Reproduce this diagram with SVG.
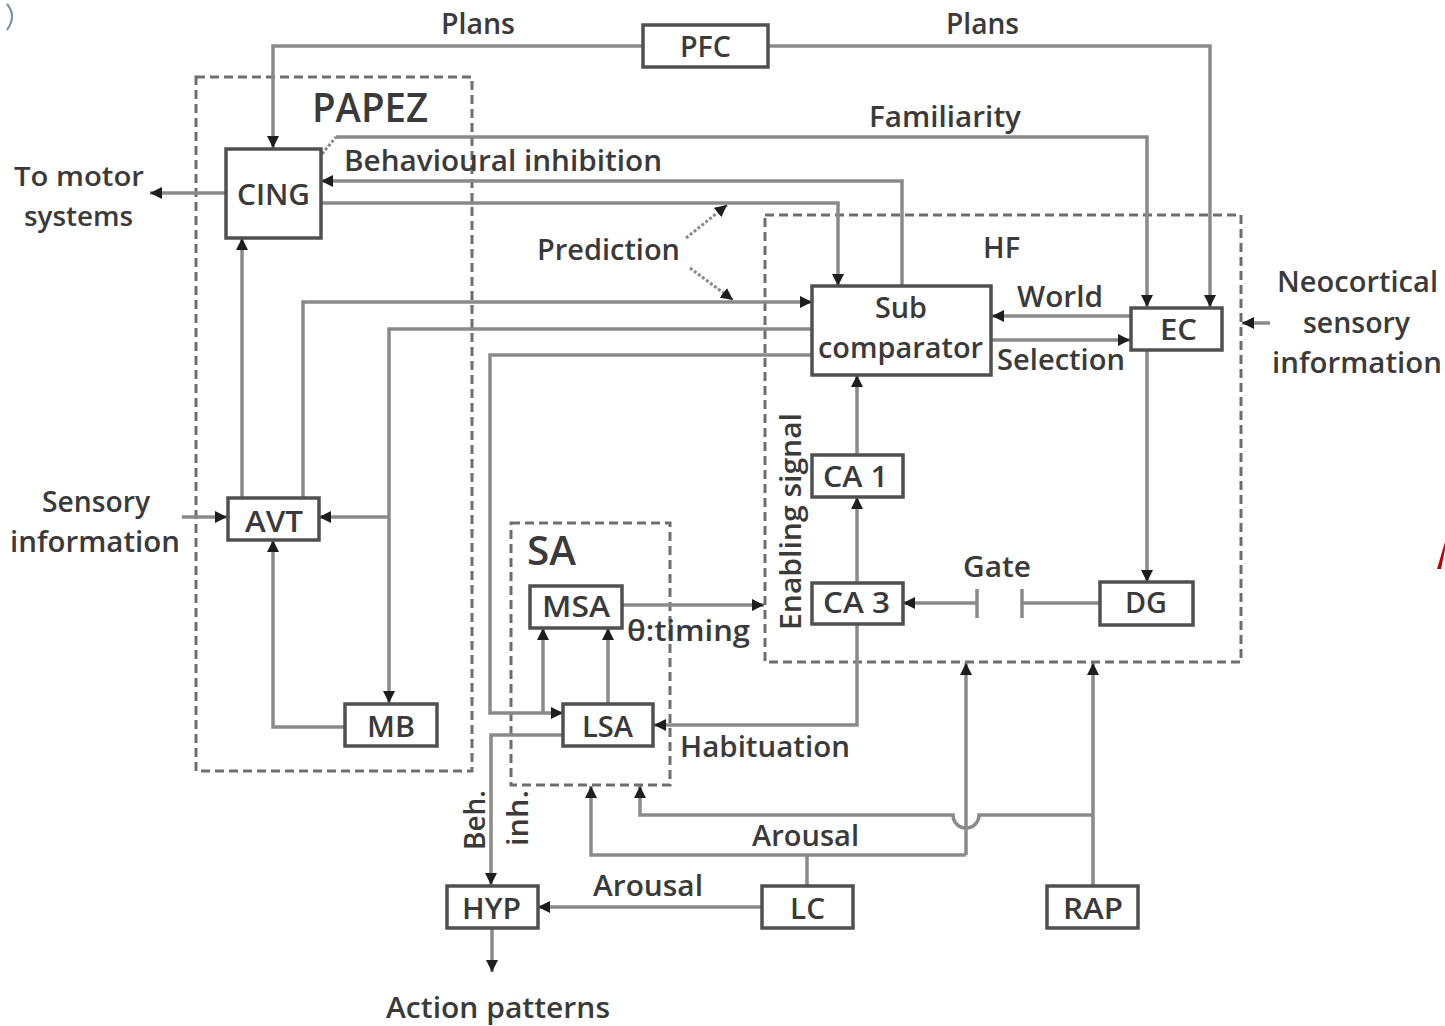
<svg xmlns="http://www.w3.org/2000/svg" width="1445" height="1026" viewBox="0 0 1445 1026">
<style>
text{font-family:"Open Sans","Noto Sans","DejaVu Sans",sans-serif;font-size:29px;font-weight:600;fill:#3a3a3a;}
.box{fill:#fff;stroke:#505050;stroke-width:3.5;}
.reg{fill:none;stroke:#6e6e6e;stroke-width:3;stroke-dasharray:9 5;}
.c{fill:none;stroke:#8a8a8a;stroke-width:3.5;stroke-linejoin:miter;}
.pr{fill:none;stroke:#8a8a8a;stroke-width:3;stroke-dasharray:3 2;}
.gate{fill:none;stroke:#8a8a8a;stroke-width:3.5;}
.big{font-size:40px;}
.sm{font-size:27px;}
</style>
<defs>
<marker id="arr" viewBox="0 0 10 10" refX="10" refY="5" markerWidth="12" markerHeight="12" markerUnits="userSpaceOnUse" orient="auto">
<path d="M0,0 L10,5 L0,10 z" fill="#1e1e1e"/>
</marker>
</defs>
<rect x="0" y="0" width="1445" height="1026" fill="#fff"/>
<!-- artifacts -->
<path d="M7,4 Q17,16 7,30" fill="none" stroke="#7088aa" stroke-width="2"/>
<polygon points="1437,569 1441,569 1445,549 1445,542" fill="#c00000"/>

<!-- regions -->
<g id="region-papez">
<rect class="reg" x="196" y="77" width="276" height="694"/>
<text class="big" x="312" y="122" textLength="116" lengthAdjust="spacingAndGlyphs">PAPEZ</text>
</g>
<g id="region-hf">
<rect class="reg" x="765" y="215" width="476" height="447"/>
<text x="983" y="258" textLength="37" lengthAdjust="spacingAndGlyphs">HF</text>
</g>
<g id="region-sa">
<rect class="reg" x="511" y="523" width="159" height="262"/>
<text class="big" x="527" y="565" textLength="49" lengthAdjust="spacingAndGlyphs">SA</text>
</g>

<!-- connectors -->
<g id="connectors">
<path class="c" d="M642,46 H273 V148" marker-end="url(#arr)"/>
<path class="c" d="M768,46 H1210 V307" marker-end="url(#arr)"/>
<path class="pr" d="M322,154 L336,137"/>
<path class="c" d="M336,137 H1147 V307" marker-end="url(#arr)"/>
<path class="c" d="M902,286 V181 H321" marker-end="url(#arr)"/>
<path class="c" d="M321,203 H838 V286" marker-end="url(#arr)"/>
<path class="pr" d="M686,238 L727,205" marker-end="url(#arr)"/>
<path class="pr" d="M690,268 L733,300" marker-end="url(#arr)"/>
<path class="c" d="M303,497 V302 H812" marker-end="url(#arr)"/>
<path class="c" d="M812,329 H389 V703" marker-end="url(#arr)"/>
<path class="c" d="M389,517 H319" marker-end="url(#arr)"/>
<path class="c" d="M812,355 H490 V713 H563" marker-end="url(#arr)"/>
<path class="c" d="M543,713 V628" marker-end="url(#arr)"/>
<path class="c" d="M608,703 V628" marker-end="url(#arr)"/>
<path class="c" d="M242,497 V238" marker-end="url(#arr)"/>
<path class="c" d="M345,727 H273 V540" marker-end="url(#arr)"/>
<path class="c" d="M226,193 H150" marker-end="url(#arr)"/>
<path class="c" d="M182,517 H227" marker-end="url(#arr)"/>
<path class="c" d="M1130,316 H992" marker-end="url(#arr)"/>
<path class="c" d="M992,340 H1130" marker-end="url(#arr)"/>
<path class="c" d="M1270,323 H1242" marker-end="url(#arr)"/>
<path class="c" d="M1147,350 V582" marker-end="url(#arr)"/>
<path class="c" d="M1100,603 H1022"/>
<path class="gate" d="M1022,589 V618 M977,589 V618"/>
<path class="c" d="M977,603 H903" marker-end="url(#arr)"/>
<path class="c" d="M857,583 V497" marker-end="url(#arr)"/>
<path class="c" d="M857,455 V375" marker-end="url(#arr)"/>
<path class="c" d="M622,605 H764" marker-end="url(#arr)"/>
<path class="c" d="M857,623 V725 H654" marker-end="url(#arr)"/>
<path class="c" d="M563,735 H491 V885" marker-end="url(#arr)"/>
<path class="c" d="M762,907 H538" marker-end="url(#arr)"/>
<path class="c" d="M807,885 V855"/>
<path class="c" d="M966,855 H591 V786" marker-end="url(#arr)"/>
<path class="c" d="M966,855 V663" marker-end="url(#arr)"/>
<path class="c" d="M1093,885 V663" marker-end="url(#arr)"/>
<path class="c" d="M1093,815 H979 A13,13 0 0 1 953,815 H640 V786" marker-end="url(#arr)"/>
<path class="c" d="M492,928 V972" marker-end="url(#arr)"/>
</g>

<!-- connector labels -->
<g id="labels">
<text x="441" y="34" textLength="74" lengthAdjust="spacingAndGlyphs">Plans</text>
<text x="946" y="34" textLength="73" lengthAdjust="spacingAndGlyphs">Plans</text>
<text x="869" y="127" textLength="152" lengthAdjust="spacingAndGlyphs">Familiarity</text>
<text x="344" y="171" textLength="318" lengthAdjust="spacingAndGlyphs">Behavioural inhibition</text>
<text class="sm" x="14" y="186" textLength="130" lengthAdjust="spacingAndGlyphs">To motor</text>
<text class="sm" x="24" y="226" textLength="109" lengthAdjust="spacingAndGlyphs">systems</text>
<text x="537" y="260" textLength="143" lengthAdjust="spacingAndGlyphs">Prediction</text>
<text x="1017" y="307" textLength="86" lengthAdjust="spacingAndGlyphs">World</text>
<text x="997" y="370" textLength="128" lengthAdjust="spacingAndGlyphs">Selection</text>
<text x="1277" y="292" textLength="161" lengthAdjust="spacingAndGlyphs">Neocortical</text>
<text x="1303" y="333" textLength="107" lengthAdjust="spacingAndGlyphs">sensory</text>
<text x="1272" y="373" textLength="170" lengthAdjust="spacingAndGlyphs">information</text>
<text x="42" y="512" textLength="108" lengthAdjust="spacingAndGlyphs">Sensory</text>
<text x="10" y="552" textLength="170" lengthAdjust="spacingAndGlyphs">information</text>
<text transform="translate(801,630) rotate(-90)" textLength="217" lengthAdjust="spacingAndGlyphs">Enabling signal</text>
<text x="963" y="577" textLength="68" lengthAdjust="spacingAndGlyphs">Gate</text>
<text x="627" y="641" textLength="123" lengthAdjust="spacingAndGlyphs">θ:timing</text>
<text x="680" y="757" textLength="170" lengthAdjust="spacingAndGlyphs">Habituation</text>
<text x="752" y="846" textLength="107" lengthAdjust="spacingAndGlyphs">Arousal</text>
<text x="593" y="896" textLength="110" lengthAdjust="spacingAndGlyphs">Arousal</text>
<text transform="translate(485,850) rotate(-90)" textLength="60" lengthAdjust="spacingAndGlyphs">Beh.</text>
<text transform="translate(528,846) rotate(-90)" textLength="56" lengthAdjust="spacingAndGlyphs">inh.</text>
<text x="386" y="1018" textLength="224" lengthAdjust="spacingAndGlyphs">Action patterns</text>
</g>

<!-- nodes -->
<g id="node-pfc"><rect class="box" x="643" y="25" width="125" height="42"/><text x="680" y="57" textLength="51" lengthAdjust="spacingAndGlyphs">PFC</text></g>
<g id="node-cing"><rect class="box" x="226" y="149" width="95" height="89"/><text x="237" y="205" textLength="73" lengthAdjust="spacingAndGlyphs">CING</text></g>
<g id="node-avt"><rect class="box" x="228" y="498" width="91" height="42"/><text x="245" y="532" textLength="58" lengthAdjust="spacingAndGlyphs">AVT</text></g>
<g id="node-mb"><rect class="box" x="345" y="704" width="92" height="42"/><text x="367" y="737" textLength="48" lengthAdjust="spacingAndGlyphs">MB</text></g>
<g id="node-sub"><rect class="box" x="812" y="286" width="179" height="89"/><text x="875" y="318" textLength="52" lengthAdjust="spacingAndGlyphs">Sub</text><text x="818" y="358" textLength="165" lengthAdjust="spacingAndGlyphs">comparator</text></g>
<g id="node-ec"><rect class="box" x="1131" y="308" width="91" height="42"/><text x="1160" y="340" textLength="37" lengthAdjust="spacingAndGlyphs">EC</text></g>
<g id="node-ca1"><rect class="box" x="812" y="455" width="91" height="42"/><text x="823" y="487" textLength="65" lengthAdjust="spacingAndGlyphs">CA 1</text></g>
<g id="node-ca3"><rect class="box" x="812" y="583" width="91" height="41"/><text x="823" y="613" textLength="67" lengthAdjust="spacingAndGlyphs">CA 3</text></g>
<g id="node-dg"><rect class="box" x="1100" y="582" width="93" height="43"/><text x="1125" y="613" textLength="42" lengthAdjust="spacingAndGlyphs">DG</text></g>
<g id="node-msa"><rect class="box" x="530" y="586" width="92" height="42"/><text x="542" y="617" textLength="68" lengthAdjust="spacingAndGlyphs">MSA</text></g>
<g id="node-lsa"><rect class="box" x="563" y="704" width="90" height="42"/><text x="582" y="737" textLength="51" lengthAdjust="spacingAndGlyphs">LSA</text></g>
<g id="node-hyp"><rect class="box" x="447" y="886" width="91" height="42"/><text x="462" y="919" textLength="59" lengthAdjust="spacingAndGlyphs">HYP</text></g>
<g id="node-lc"><rect class="box" x="762" y="886" width="91" height="42"/><text x="790" y="919" textLength="35" lengthAdjust="spacingAndGlyphs">LC</text></g>
<g id="node-rap"><rect class="box" x="1047" y="886" width="91" height="42"/><text x="1063" y="919" textLength="60" lengthAdjust="spacingAndGlyphs">RAP</text></g>
</svg>
